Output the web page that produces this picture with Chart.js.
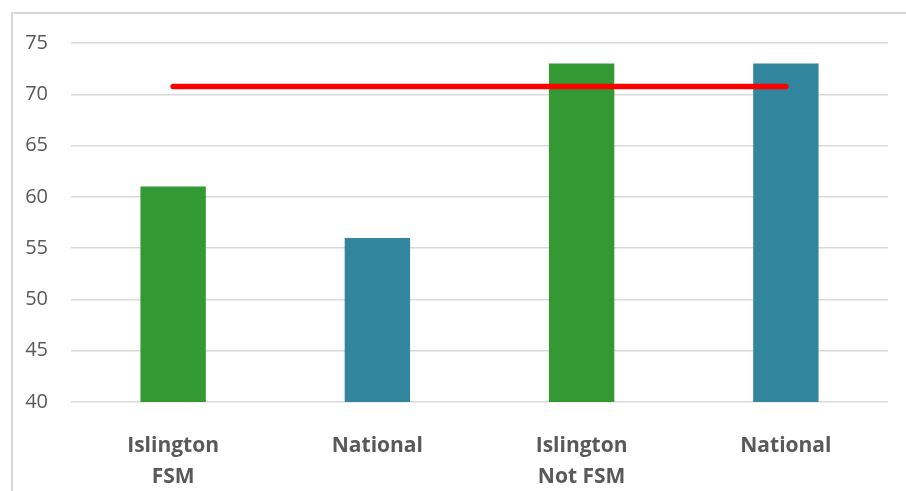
<!DOCTYPE html>
<html>
<head>
<meta charset="utf-8">
<script src="https://cdn.jsdelivr.net/npm/chart.js@4"></script>
<style>
    html, body { margin: 0; padding: 0; background: #ffffff; overflow: hidden; }
    .frame {
        position: absolute;
        left: 11px;
        top: 12px;
        width: 920px;
        height: 500px;
        border-left: 2px solid #d9d9d9;
        border-top: 2px solid #d9d9d9;
    }
    .chart-box { position: absolute; left: 0; top: 0; width: 906px; height: 491px; }
</style>
</head>
<body>
<div class="frame"></div>
<div class="chart-box"><canvas id="fsmChart"></canvas></div>
<script>
// Attainment by free school meal status, Islington vs national
const categories = [['Islington', 'FSM'], 'National', ['Islington', 'Not FSM'], 'National'];
const attainment = [61, 56, 73, 73];
const barColors = ['#339933', '#31859c', '#339933', '#31859c'];
const targetLevel = [70.75, 70.75, 70.75, 70.75];
const yTicks = [40, 45, 50, 55, 60, 65, 70, 75];

const textColor = '#595959';
const gridColor = '#d9d9d9';

new Chart(document.getElementById('fsmChart').getContext('2d'), {
    data: {
        labels: categories,
        datasets: [
            {
                type: 'line',
                data: targetLevel,
                borderColor: '#ff0000',
                borderWidth: 5.5,
                borderCapStyle: 'round',
                pointRadius: 0,
                fill: false,
                order: 0
            },
            {
                type: 'bar',
                data: attainment,
                backgroundColor: barColors,
                barPercentage: 0.32,
                categoryPercentage: 1,
                order: 1
            }
        ]
    },
    options: {
        responsive: true,
        maintainAspectRatio: false,
        animation: false,
        layout: { padding: { left: 0, right: 18, top: 43, bottom: 0 } },
        plugins: { legend: { display: false }, tooltip: { enabled: false } },
        scales: {
            x: {
                grid: { display: false },
                border: { display: false },
                ticks: {
                    color: textColor,
                    padding: 21,
                    maxRotation: 0,
                    font: { family: 'Open Sans', size: 21, weight: 'bold', lineHeight: 1.45 }
                },
                afterFit: (scale) => { scale.height = 89; }
            },
            y: {
                min: 40,
                max: 75,
                afterBuildTicks: (scale) => { scale.ticks = yTicks.map(v => ({ value: v })); },
                grid: { color: gridColor, lineWidth: 1.5, drawTicks: false },
                border: { display: false },
                ticks: {
                    color: textColor,
                    padding: 23,
                    font: { family: 'Open Sans', size: 20 }
                },
                afterFit: (scale) => { scale.width = 71; }
            }
        }
    }
});
</script>
</body>
</html>
